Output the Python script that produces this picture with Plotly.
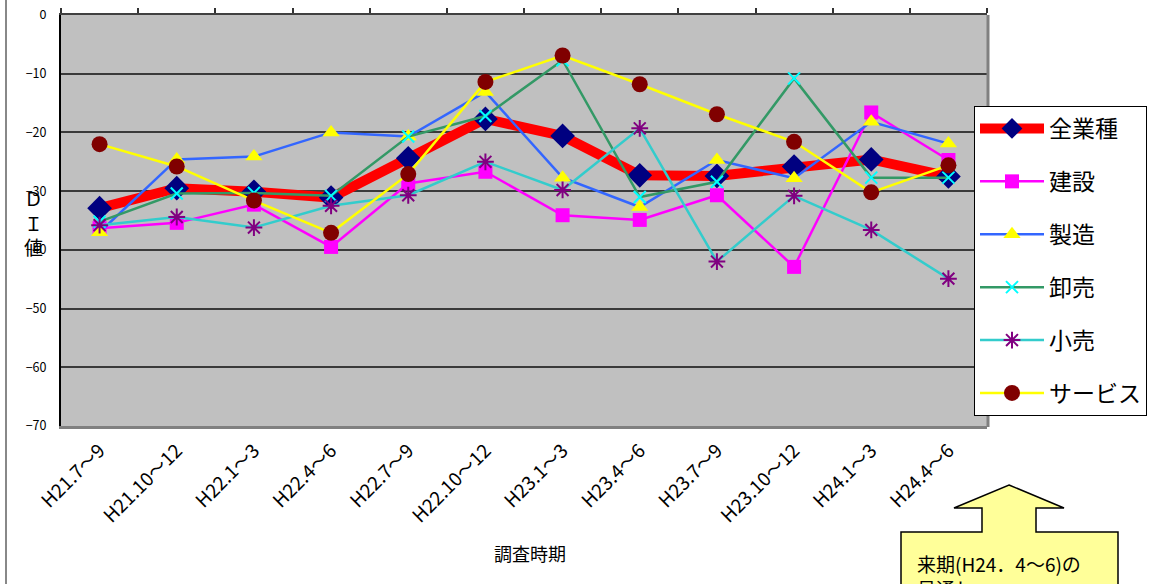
import plotly.graph_objects as go

# Survey periods (category axis)
periods = ["H21.7～9", "H21.10～12", "H22.1～3", "H22.4～6", "H22.7～9", "H22.10～12",
           "H23.1～3", "H23.4～6", "H23.7～9", "H23.10～12", "H24.1～3", "H24.4～6"]

# DI values by industry
di_all = [-32.9, -29.5, -30.1, -31.1, -24.4, -17.7, -20.6, -27.3, -27.4, -25.8, -24.6, -27.5]
di_construction = [-36.3, -35.4, -32.3, -39.5, -28.7, -26.7, -34.1, -34.9, -30.7, -42.9, -16.6, -24.7]
di_manufacturing = [-37.0, -24.6, -24.1, -20.0, -20.7, -13.1, -27.7, -32.7, -24.7, -27.8, -18.2, -21.9]
di_wholesale = [-35.2, -30.4, -30.3, -30.8, -20.7, -17.2, -7.7, -31.0, -28.4, -10.8, -27.7, -27.7]
di_retail = [-35.8, -34.4, -36.2, -32.5, -30.7, -25.0, -29.8, -19.3, -42.0, -30.8, -36.6, -44.9]
di_service = [-22.0, -25.8, -31.6, -37.1, -27.1, -11.4, -6.9, -11.8, -16.9, -21.6, -30.2, -25.6]

y_ticks = [0, -10, -20, -30, -40, -50, -60, -70]

JP = "Noto Sans CJK JP"
W, H = 1160, 584
PL, PR, PT, PB = 61, 987, 15, 426  # plot-area edges in pixels


def fx(px):
    return (px - PL) / (PR - PL)


def fy(py):
    return (PB - py) / (PB - PT)


xs = list(range(len(periods)))

series = [
    ("全業種", di_all, dict(color="#FF0000", width=10),
     dict(symbol="diamond", size=19, color="#000080")),
    ("建設", di_construction, dict(color="#FF00FF", width=2.5),
     dict(symbol="square", size=14, color="#FF00FF")),
    ("製造", di_manufacturing, dict(color="#3366FF", width=2.5),
     dict(symbol="triangle-up", size=15, color="#FFFF00")),
    ("卸売", di_wholesale, dict(color="#339966", width=2.5),
     dict(symbol="x-thin", size=12, color="#00FFFF", line=dict(color="#00FFFF", width=2))),
    ("小売", di_retail, dict(color="#33CCCC", width=2.5),
     dict(symbol="asterisk", size=14, color="#800080", line=dict(color="#800080", width=2))),
    ("サービス", di_service, dict(color="#FFFF00", width=2.5),
     dict(symbol="circle", size=16, color="#800000")),
]

fig = go.Figure()
for name, vals, line, marker in series:
    fig.add_trace(go.Scatter(
        x=xs, y=vals, name=name, mode="lines+markers",
        line=line, marker=marker, legendgroup=name,
        cliponaxis=False,
    ))

fig.update_layout(
    width=W, height=H,
    margin=dict(l=PL, r=W - PR, t=PT, b=H - PB, autoexpand=False),
    paper_bgcolor="white",
    plot_bgcolor="#C0C0C0",
    font=dict(family=JP, color="black"),
    showlegend=True,
    legend=dict(
        x=fx(974), y=fy(106), xanchor="left", yanchor="top",
        bgcolor="white", bordercolor="black", borderwidth=1,
        font=dict(family=JP, size=23, color="black"),
        tracegroupgap=20, itemwidth=64,
    ),
    xaxis=dict(
        range=[-0.5, len(periods) - 0.5], automargin=False,
        tickmode="array", tickvals=xs, ticktext=periods,
        tickangle=-45, tickfont=dict(family=JP, size=19),
        ticks="outside", ticklen=3, tickcolor="rgba(0,0,0,0)",
        showgrid=False, zeroline=False,
        showline=True, linecolor="#808080", linewidth=3,
    ),
    xaxis2=dict(
        overlaying="x", anchor="y", side="top", automargin=False,
        range=[-0.5, len(periods) - 0.5],
        tickmode="array", tickvals=[i - 0.5 for i in range(len(periods) + 1)],
        ticks="outside", ticklen=5, tickcolor="#333333", tickwidth=1.5,
        showticklabels=False, showgrid=False, zeroline=False,
        showline=True, linecolor="#404040", linewidth=2,
    ),
    yaxis=dict(
        range=[-70, 0], tickmode="array", tickvals=y_ticks, automargin=False,
        tickfont=dict(family=JP, size=12.5),
        ticks="outside", ticklen=10, tickcolor="rgba(0,0,0,0)",
        showgrid=True, gridcolor="#3A3A3A", gridwidth=1.5,
        zeroline=False, showline=True, linecolor="black", linewidth=2,
    ),
)

# keep the top axis drawn by giving it an invisible trace
fig.add_trace(go.Scatter(x=[0], y=[0], xaxis="x2", mode="markers",
                         marker=dict(opacity=0), showlegend=False, hoverinfo="skip"))

# right edge shadow of the plot area
fig.add_shape(type="line", xref="paper", yref="paper",
              x0=fx(PR + 1), x1=fx(PR + 1), y0=fy(PB + 1), y1=fy(PT),
              line=dict(color="#808080", width=3), layer="above")
# chart frame left edge
fig.add_shape(type="line", xref="paper", yref="paper",
              x0=fx(6), x1=fx(6), y0=fy(0), y1=fy(H),
              line=dict(color="#888888", width=2))

# y-axis title, stacked vertically
fig.add_annotation(text="Ｄ<br>Ｉ<br>値", xref="paper", yref="paper",
                   x=fx(33), y=fy(222), xanchor="center", yanchor="middle",
                   showarrow=False, font=dict(family=JP, size=19, color="black"))
# x-axis title
fig.add_annotation(text="調査時期", xref="paper", yref="paper",
                   x=fx(530), y=fy(553), xanchor="center", yanchor="middle",
                   showarrow=False, font=dict(family=JP, size=18, color="black"))

# outlook callout: up arrow above a note box
arrow_pts = [(1009, 485), (1064, 508), (1036, 508), (1036, 532), (1118, 532),
             (1118, 600), (901, 600), (901, 532), (982, 532), (982, 508), (954, 508)]
path = "M " + " L ".join(f"{fx(x):.5f},{fy(y):.5f}" for x, y in arrow_pts) + " Z"
fig.add_shape(type="path", xref="paper", yref="paper", path=path,
              fillcolor="#FFFF99", line=dict(color="black", width=1.5))
fig.add_annotation(text="来期(H24．4～6)の<br>見通し", xref="paper", yref="paper",
                   x=fx(915), y=fy(548), xanchor="left", yanchor="top", align="left",
                   showarrow=False, font=dict(family=JP, size=19, color="black"))

fig.write_html("out.html")
